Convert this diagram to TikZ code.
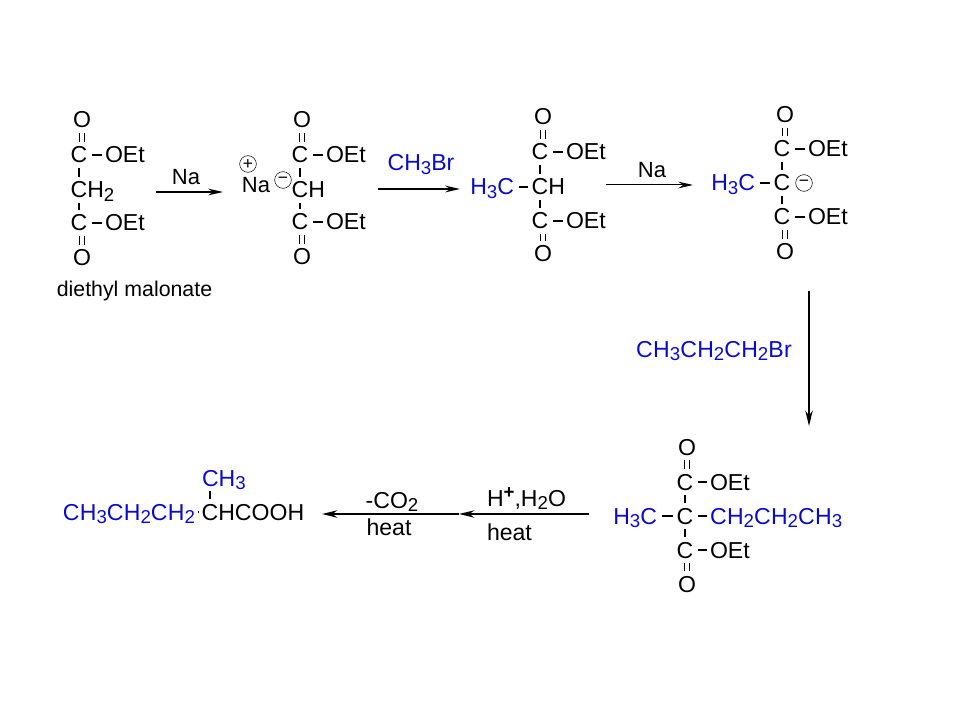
\documentclass[tikz,border=0pt]{standalone}
\usepackage{fontspec}
\setmainfont{Liberation Sans}
\usetikzlibrary{arrows.meta}
\definecolor{chemblue}{RGB}{10,10,205}
\newcommand{\dn}[1]{\raisebox{-0.32ex}{\fontsize{14}{14}\selectfont #1}}
\newcommand{\up}[1]{\raisebox{0.62ex}{\fontsize{14}{14}\selectfont\bfseries #1}}
\tikzset{
	atom/.style={inner sep=0pt, outer sep=0pt, font=\fontsize{17.3}{19}\selectfont, text height=12pt, text depth=0pt},
	bluegrp/.style={atom, text=chemblue},
	chaingrp/.style={bluegrp, font=\fontsize{17.3}{19}\selectfont\addfontfeature{LetterSpace=1.5}},
	metal/.style={atom, font=\fontsize{16.5}{18}\selectfont},
	caption/.style={atom, font=\fontsize{16}{18}\selectfont},
	charge/.style={draw, thin, circle, inner sep=0pt, outer sep=0pt, minimum size=12.5pt, font=\fontsize{13}{13}\selectfont},
	bond/.style={line width=0.9pt, shorten <=3.8pt, shorten >=3.8pt},
	sidebond/.style={line width=0.9pt, shorten <=3.5pt, shorten >=2.5pt},
	dotbond/.style={line width=0.9pt, shorten <=2pt, shorten >=2.5pt},
	dbond/.style={line width=0.75pt, double, double distance=3pt, shorten <=3.5pt, shorten >=3.7pt},
	rarrow/.style={line width=1.2pt, -{Stealth[length=11pt,width=5pt]}},
	tarrow/.style={line width=0.75pt, -{Stealth[length=11pt,width=5pt]}},
	barrow/.style={line width=1.5pt, -{Stealth[length=11.5pt,width=5.5pt]}}
}
\begin{document}
\begin{tikzpicture}[x=0.75pt, y=-0.75pt]
	\useasboundingbox (0,0) rectangle (960,720);
	% diethyl malonate
	\node[atom] (oa1) at (82,120) {O};
	\node[atom] (ca1) at (79,155) {C};
	\node[atom, anchor=west] (ea1) at (105,155) {OEt};
	\node[atom] (ca2) at (79,190) {C};
	\node[atom, anchor=west] (ha2) at (ca2.east) {H\dn{2}};
	\node[atom] (ca3) at (79,223) {C};
	\node[atom, anchor=west] (ea3) at (105,223) {OEt};
	\node[atom] (oa3) at (82,258) {O};
	\node[caption] (name) at (134.5,288.5) {diethyl malonate};
	\draw[dbond] (oa1) -- (oa1 |- ca1.north);
	\draw[sidebond] (ca1) -- (ea1);
	\draw[bond] (ca1) -- (ca2);
	\draw[bond] (ca2) -- (ca3);
	\draw[sidebond] (ca3) -- (ea3);
	\draw[dbond] (oa3) -- (oa3 |- ca3.south);
	% sodium salt
	\node[atom] (ob1) at (302,120) {O};
	\node[atom] (cb1) at (300,155) {C};
	\node[atom, anchor=west] (eb1) at (326,155) {OEt};
	\node[atom] (cb2) at (300,190) {C};
	\node[atom, anchor=west] (hb2) at (cb2.east) {H};
	\node[atom] (cb3) at (300,222) {C};
	\node[atom, anchor=west] (eb3) at (326,222) {OEt};
	\node[atom] (ob3) at (302,257) {O};
	\node[metal] (na) at (256,185) {Na};
	\node[charge] (plus) at (248,164) {+};
	\node[charge] (minus) at (283,180) {−};
	\draw[dbond] (ob1) -- (ob1 |- cb1.north);
	\draw[sidebond] (cb1) -- (eb1);
	\draw[bond] (cb1) -- (cb2);
	\draw[bond] (cb2) -- (cb3);
	\draw[sidebond] (cb3) -- (eb3);
	\draw[dbond] (ob3) -- (ob3 |- cb3.south);
	% methyl ester
	\node[atom] (oc1) at (543,117) {O};
	\node[atom] (cc1) at (540,152) {C};
	\node[atom, anchor=west] (ec1) at (566,152) {OEt};
	\node[atom] (cc2) at (540,187) {C};
	\node[atom, anchor=west] (hc2) at (cc2.east) {H};
	\node[bluegrp, anchor=east] (mc) at (514,187) {H\dn{3}C};
	\node[atom] (cc3) at (540,221) {C};
	\node[atom, anchor=west] (ec3) at (566,221) {OEt};
	\node[atom] (oc3) at (543,254) {O};
	\draw[dbond] (oc1) -- (oc1 |- cc1.north);
	\draw[sidebond] (cc1) -- (ec1);
	\draw[bond] (cc1) -- (cc2);
	\draw[sidebond] (mc) -- (cc2);
	\draw[bond] (cc2) -- (cc3);
	\draw[sidebond] (cc3) -- (ec3);
	\draw[dbond] (oc3) -- (oc3 |- cc3.south);
	% methyl carbanion
	\node[atom] (od1) at (785,115) {O};
	\node[atom] (cd1) at (782,149) {C};
	\node[atom, anchor=west] (ed1) at (808,149) {OEt};
	\node[atom] (cd2) at (782,183) {C};
	\node[charge] (minusd) at (804,183) {−};
	\node[bluegrp, anchor=east] (md) at (755,183) {H\dn{3}C};
	\node[atom] (cd3) at (782,217) {C};
	\node[atom, anchor=west] (ed3) at (808,217) {OEt};
	\node[atom] (od3) at (785,252) {O};
	\draw[dbond] (od1) -- (od1 |- cd1.north);
	\draw[sidebond] (cd1) -- (ed1);
	\draw[bond] (cd1) -- (cd2);
	\draw[sidebond] (md) -- (cd2);
	\draw[bond] (cd2) -- (cd3);
	\draw[sidebond] (cd3) -- (ed3);
	\draw[dbond] (od3) -- (od3 |- cd3.south);
	% dialkylated ester
	\node[atom] (oe1) at (687,447) {O};
	\node[atom] (ce1) at (685,482) {C};
	\node[atom, anchor=west] (ee1) at (710,482) {OEt};
	\node[atom] (ce2) at (685,516) {C};
	\node[bluegrp, anchor=east] (me) at (657,516) {H\dn{3}C};
	\node[chaingrp, anchor=west] (pe) at (710,516) {CH\dn{2}CH\dn{2}CH\dn{3}};
	\node[atom] (ce3) at (685,550) {C};
	\node[atom, anchor=west] (ee3) at (710,550) {OEt};
	\node[atom] (oe3) at (687,584) {O};
	\draw[dbond] (oe1) -- (oe1 |- ce1.north);
	\draw[sidebond] (ce1) -- (ee1);
	\draw[bond] (ce1) -- (ce2);
	\draw[sidebond] (me) -- (ce2);
	\draw[sidebond] (ce2) -- (pe);
	\draw[bond] (ce2) -- (ce3);
	\draw[sidebond] (ce3) -- (ee3);
	\draw[dbond] (oe3) -- (oe3 |- ce3.south);
	% acid
	\node[chaingrp, anchor=east] (pf) at (195,512) {CH\dn{3}CH\dn{2}CH\dn{2}};
	\node[atom] (cf) at (210,512) {C};
	\node[atom, anchor=west] (rf) at (cf.east) {HCOOH};
	\node[bluegrp, anchor=west] (mf) at (202,478) {CH\dn{3}};
	\draw[dotbond] (pf) -- (cf);
	\draw[bond] (cf) -- (cf |- mf.south);
	% arrows
	\coordinate (a1s) at (156,192);
	\coordinate (a1e) at (223,192);
	\draw[rarrow] (a1s) -- (a1e);
	\node[metal] (l1) at (186,177) {Na};
	\coordinate (a2s) at (378,189);
	\coordinate (a2e) at (460,189);
	\draw[rarrow] (a2s) -- (a2e);
	\node[bluegrp] (l2) at (421,163) {CH\dn{3}Br};
	\coordinate (a3s) at (606,185);
	\coordinate (a3e) at (693,185);
	\draw[tarrow] (a3s) -- (a3e);
	\node[metal] (l3) at (652,170) {Na};
	\coordinate (a4s) at (809,291);
	\coordinate (a4e) at (809,426);
	\draw[barrow] (a4s) -- (a4e);
	\node[chaingrp] (l4) at (714,349) {CH\dn{3}CH\dn{2}CH\dn{2}Br};
	\coordinate (a5s) at (589,514);
	\coordinate (a5e) at (459,514);
	\coordinate (a6e) at (322,514);
	\draw[barrow] (a5s) -- (a5e);
	\draw[barrow] (a5e) -- (a6e);
	\node[atom, anchor=west] (l5) at (487,498) {H\up{+},H\dn{2}O};
	\node[atom, anchor=west] (l6) at (487,532) {heat};
	\node[atom] (l7) at (392,500) {-CO\dn{2}};
	\node[atom] (l8) at (389,527) {heat};
\end{tikzpicture}
\end{document}
